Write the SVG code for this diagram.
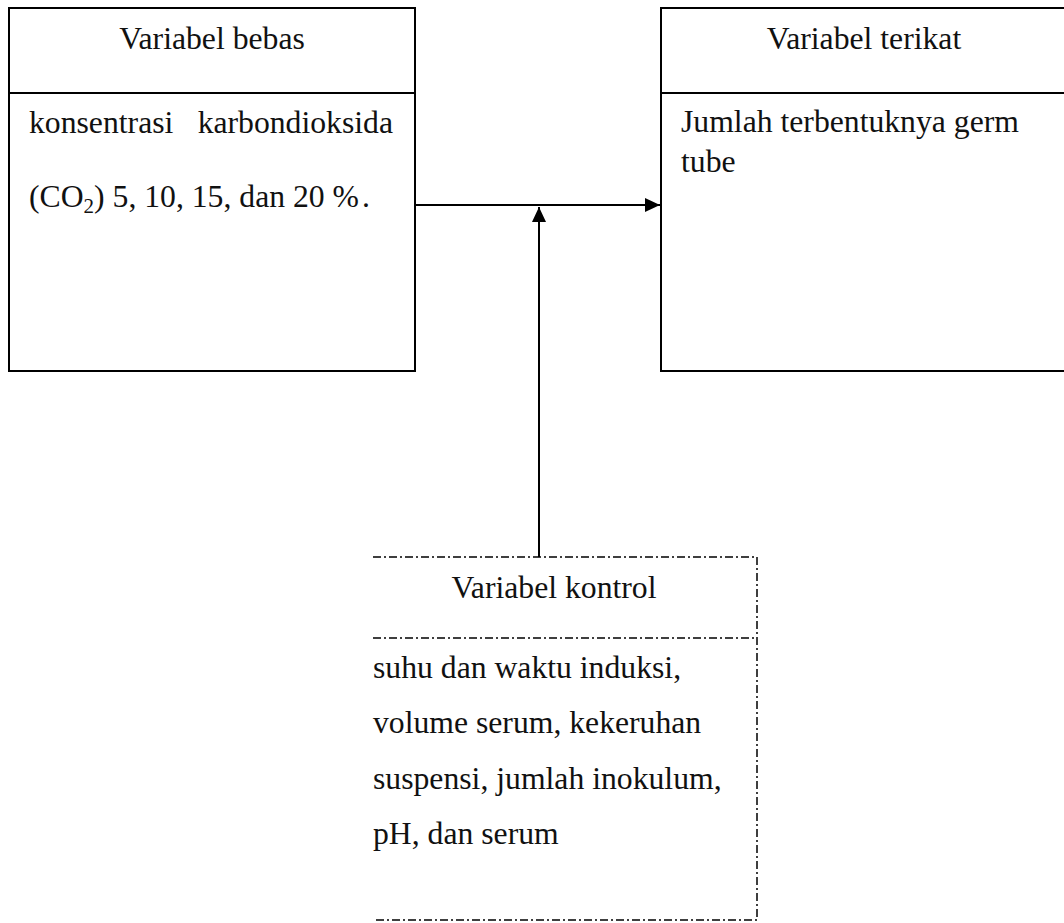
<svg xmlns="http://www.w3.org/2000/svg" width="1064" height="923" viewBox="0 0 1064 923">
  <defs>
    <style>
      .box { fill: #ffffff; stroke: #000000; stroke-width: 2; }
      .sep { stroke: #000000; stroke-width: 2; }
      .dashbox { fill: none; stroke: #000000; stroke-width: 1.5; stroke-dasharray: 8 3 2 3; }
      .txt { font-family: "Liberation Serif", "Times New Roman", serif; font-size: 31.7px; fill: #111111; }
      .sub { font-size: 21px; }
      .conn { fill: none; stroke: #000000; stroke-width: 2; }
    </style>
    <marker id="arrow" viewBox="0 0 15 14" refX="15" refY="7" markerWidth="15" markerHeight="14" markerUnits="userSpaceOnUse" orient="auto">
      <path d="M0,0 L15,7 L0,14 Z" fill="#000000"/>
    </marker>
  </defs>

  <rect width="1064" height="923" fill="#ffffff"/>

  <!-- independent variable -->
  <g id="node-bebas">
    <rect class="box" x="9" y="8" width="406" height="363"/>
    <line class="sep" x1="9" y1="93" x2="415" y2="93"/>
    <text class="txt" x="212" y="49" text-anchor="middle">Variabel bebas</text>
    <text class="txt" x="29" y="133">konsentrasi</text>
    <text class="txt" x="393" y="133" text-anchor="end">karbondioksida</text>
    <text class="txt" x="29" y="207">(CO<tspan class="sub" dy="6">2</tspan><tspan dy="-6">) 5, 10, 15, dan 20 %</tspan><tspan dx="3">.</tspan></text>
  </g>

  <!-- dependent variable -->
  <g id="node-terikat">
    <rect class="box" x="661" y="8" width="406" height="363"/>
    <line class="sep" x1="661" y1="93" x2="1067" y2="93"/>
    <text class="txt" x="864" y="49" text-anchor="middle">Variabel terikat</text>
    <text class="txt" x="681" y="132">Jumlah terbentuknya germ</text>
    <text class="txt" x="681" y="172">tube</text>
  </g>

  <!-- control variable -->
  <g id="node-kontrol">
    <path class="dashbox" d="M373,557 H757 V920 H373"/>
    <line class="dashbox" x1="373" y1="638" x2="757" y2="638"/>
    <text class="txt" x="554" y="598" text-anchor="middle">Variabel kontrol</text>
    <text class="txt" x="373" y="678">suhu dan waktu induksi,</text>
    <text class="txt" x="373" y="733">volume serum, kekeruhan</text>
    <text class="txt" x="373" y="789">suspensi, jumlah inokulum,</text>
    <text class="txt" x="373" y="844">pH, dan serum</text>
  </g>

  <!-- connectors -->
  <g id="connectors">
    <line class="conn" x1="415" y1="205" x2="660" y2="205" marker-end="url(#arrow)"/>
    <line class="conn" x1="539" y1="557" x2="539" y2="207" marker-end="url(#arrow)"/>
  </g>
</svg>
